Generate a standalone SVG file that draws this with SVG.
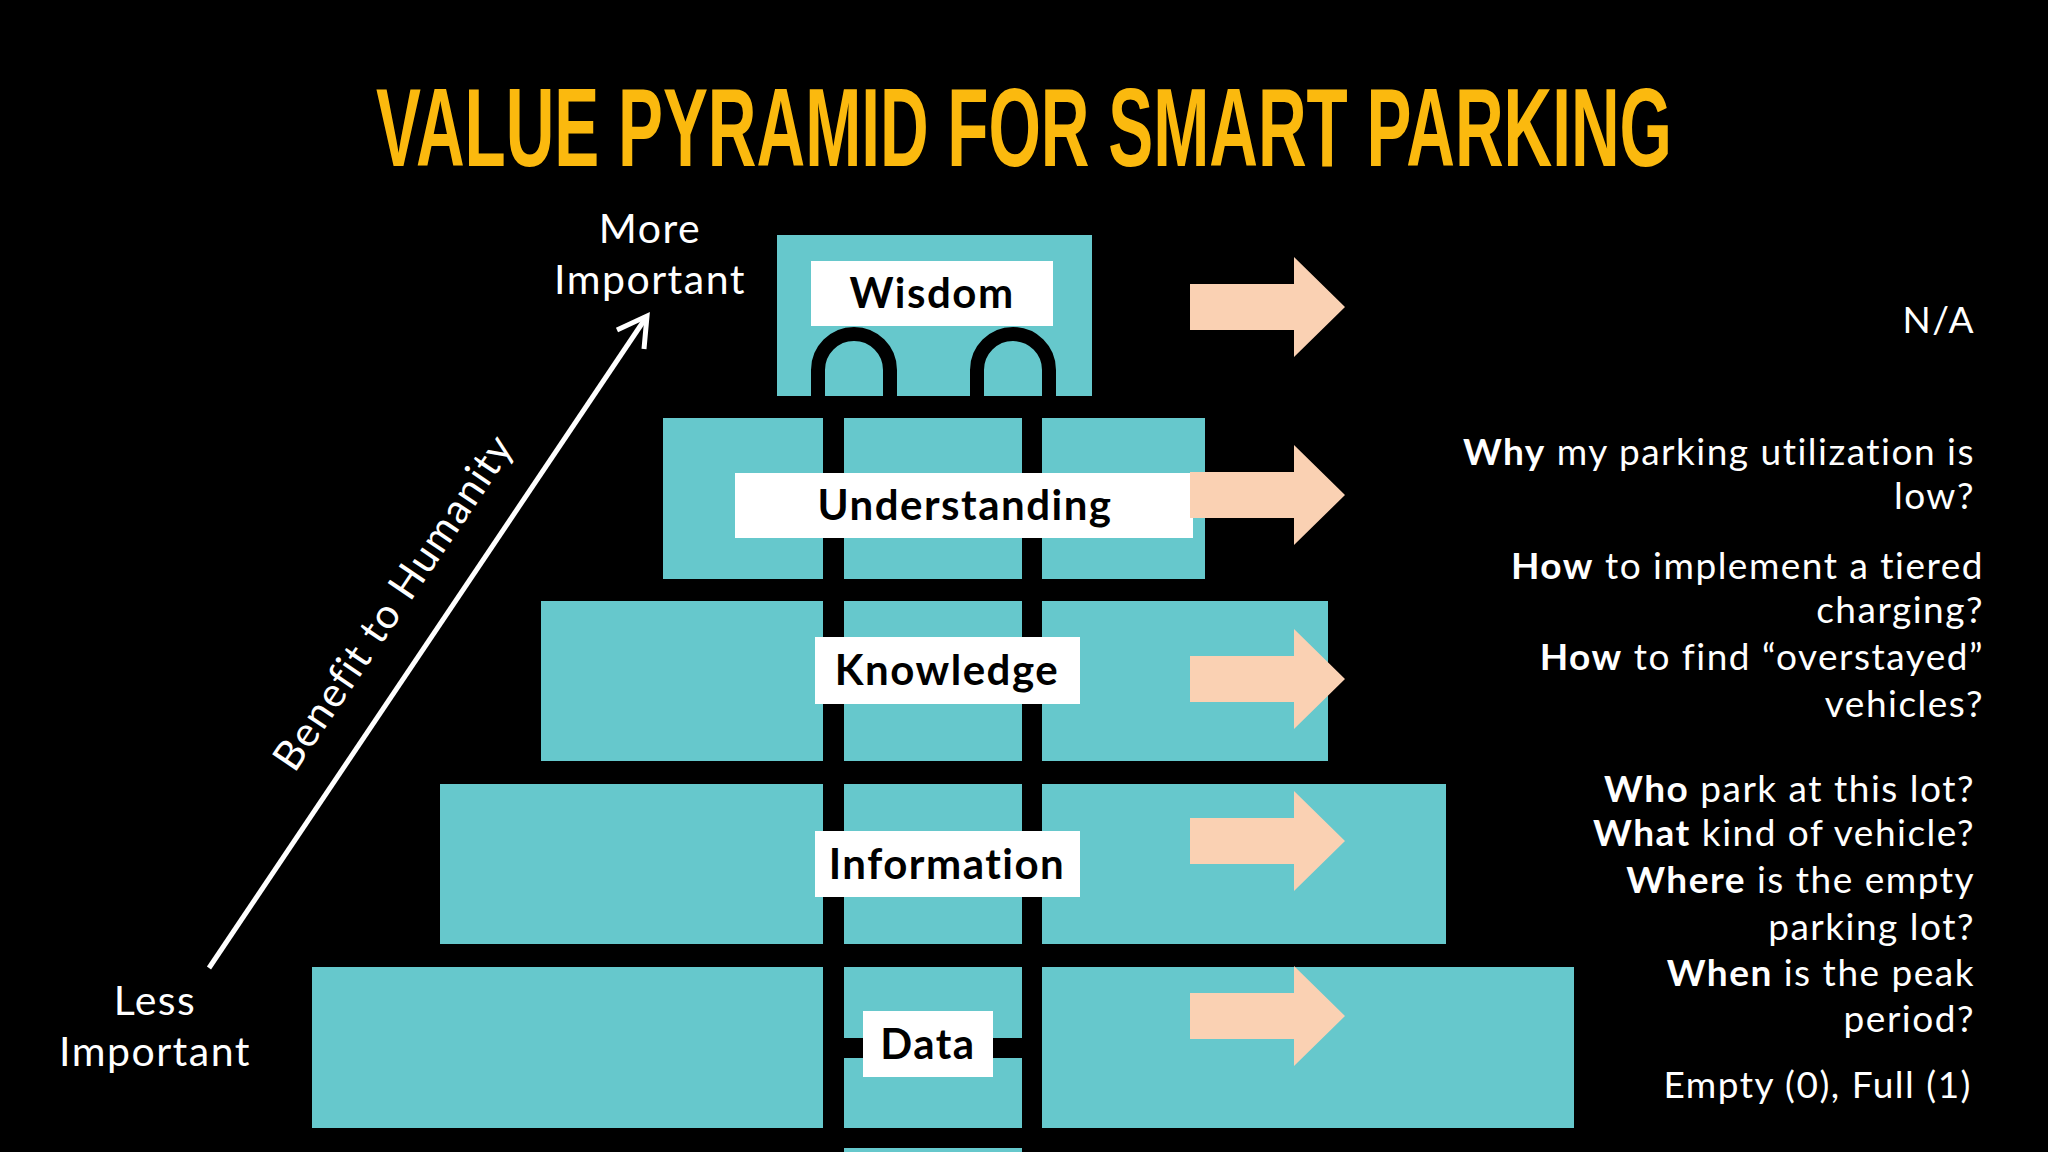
<svg xmlns="http://www.w3.org/2000/svg" width="2048" height="1152" viewBox="0 0 2048 1152">
<style>
.t{fill:#66C8CC}
.lb{fill:#fff}
.lt{font-family:"Lato","Liberation Sans",sans-serif;font-weight:bold;font-size:42px;fill:#000;text-anchor:middle;letter-spacing:1.5px}
.ar{fill:#FAD1B3}
.rt{font-family:"Lato","Liberation Sans",sans-serif;font-size:37px;fill:#fff;text-anchor:end;letter-spacing:1.5px}
.rt tspan.b{font-weight:bold}
.side{font-family:"Lato","Liberation Sans",sans-serif;font-size:41px;fill:#fff;text-anchor:middle;letter-spacing:1.5px}
</style>
<defs>
<path id="arrow" d="M0 -23 H104 V-50 L155 0 L104 50 V23 H0 Z"/>
</defs>
<rect width="2048" height="1152" fill="#000"/>
<text x="1024" y="166" font-family="'Liberation Sans',sans-serif" font-weight="bold" font-size="112" fill="#FBB90E" text-anchor="middle" textLength="1296" lengthAdjust="spacingAndGlyphs">VALUE PYRAMID FOR SMART PARKING</text>

<g id="pyramid">
<rect class="t" x="777" y="235" width="315" height="161"/>
<rect class="t" x="663" y="418" width="542" height="161"/>
<rect class="t" x="541" y="601" width="787" height="160"/>
<rect class="t" x="440" y="784" width="1006" height="160"/>
<rect class="t" x="312" y="967" width="1262" height="161"/>
<rect class="t" x="844" y="1148" width="178" height="4"/>
<g fill="#000">
<rect x="823" y="396" width="21" height="756"/>
<rect x="1022" y="396" width="20" height="756"/>
<rect x="844" y="1038" width="178" height="20"/>
</g>
<g fill="none" stroke="#000" stroke-width="14">
<path d="M818 400 V370 A36 36 0 0 1 890 370 V400"/>
<path d="M977 400 V370 A36 36 0 0 1 1049 370 V400"/>
</g>
</g>

<g id="wisdom"><rect class="lb" x="811" y="261" width="242" height="65"/><text class="lt" x="932" y="308">Wisdom</text></g>
<g id="understanding"><rect class="lb" x="735" y="473" width="458" height="65"/><text class="lt" x="965" y="520">Understanding</text></g>
<g id="knowledge"><rect class="lb" x="815" y="637" width="265" height="67"/><text class="lt" x="947" y="685">Knowledge</text></g>
<g id="information"><rect class="lb" x="815" y="831" width="265" height="66"/><text class="lt" x="947" y="879">Information</text></g>
<g id="data"><rect class="lb" x="863" y="1011" width="130" height="66"/><text class="lt" x="928" y="1059">Data</text></g>

<g id="connectors">
<use href="#arrow" class="ar" x="1190" y="307"/>
<use href="#arrow" class="ar" x="1190" y="495"/>
<use href="#arrow" class="ar" x="1190" y="679"/>
<use href="#arrow" class="ar" x="1190" y="841"/>
<use href="#arrow" class="ar" x="1190" y="1016"/>
<line x1="209" y1="968" x2="645" y2="319" stroke="#fff" stroke-width="5"/>
<path d="M617 330 L647 316 L644 349" fill="none" stroke="#fff" stroke-width="5"/>
</g>

<g id="axis-labels">
<text class="side" x="650" y="243">More</text>
<text class="side" x="650" y="294">Important</text>
<text class="side" x="155" y="1015">Less</text>
<text class="side" x="155" y="1066">Important</text>
<text class="side" x="0" y="0" transform="translate(405,610) rotate(-56)">Benefit to Humanity</text>
</g>

<g id="descriptions">
<text class="rt" x="1975" y="333">N/A</text>
<text class="rt" x="1975" y="465"><tspan class="b">Why</tspan> my parking utilization is</text>
<text class="rt" x="1975" y="509">low?</text>
<text class="rt" x="1984" y="579"><tspan class="b">How</tspan> to implement a tiered</text>
<text class="rt" x="1984" y="623">charging?</text>
<text class="rt" x="1984" y="670"><tspan class="b">How</tspan> to find “overstayed”</text>
<text class="rt" x="1984" y="717">vehicles?</text>
<text class="rt" x="1975" y="802"><tspan class="b">Who</tspan> park at this lot?</text>
<text class="rt" x="1975" y="846"><tspan class="b">What</tspan> kind of vehicle?</text>
<text class="rt" x="1975" y="893"><tspan class="b">Where</tspan> is the empty</text>
<text class="rt" x="1975" y="940">parking lot?</text>
<text class="rt" x="1975" y="986"><tspan class="b">When</tspan> is the peak</text>
<text class="rt" x="1975" y="1032">period?</text>
<text class="rt" x="1972" y="1098">Empty (0), Full (1)</text>
</g>
</svg>
